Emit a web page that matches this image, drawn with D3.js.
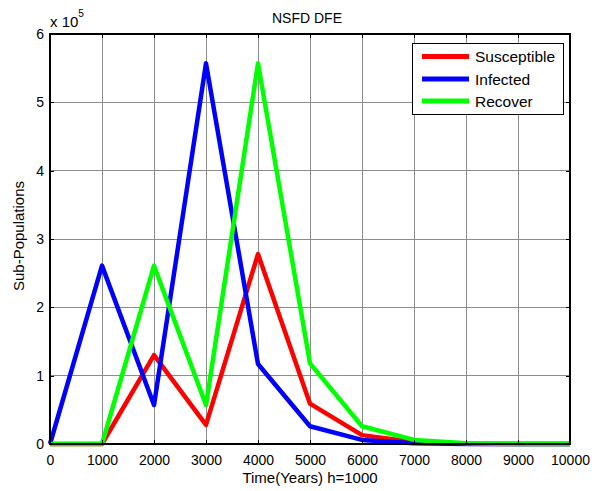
<!DOCTYPE html>
<html>
<head>
<meta charset="utf-8">
<script src="https://cdn.jsdelivr.net/npm/d3@7/dist/d3.min.js"></script>
<style>
  html, body { margin: 0; padding: 0; background: #fff; }
  svg { display: block; font-family: Arial, "Liberation Sans", sans-serif; }
</style>
</head>
<body>
<svg id="chart" width="592" height="491"></svg>
<script>
// Time steps (years) and the three sub-populations, in units of 1e5
const years = [0, 1000, 2000, 3000, 4000, 5000, 6000, 7000, 8000, 9000, 10000];
const susceptible = [0, 0, 1.30, 0.28, 2.78, 0.59, 0.13, 0.03, 0.005, 0, 0];
const infected    = [0, 2.61, 0.57, 5.57, 1.17, 0.26, 0.06, 0.01, 0, 0, 0];
const recover     = [0, 0, 2.61, 0.57, 5.57, 1.18, 0.26, 0.06, 0.01, 0, 0];

const seriesNames = ["Susceptible", "Infected", "Recover"];
const seriesColors = ["#ff0000", "#0000ff", "#00ff00"];
const xTicks = [0, 1000, 2000, 3000, 4000, 5000, 6000, 7000, 8000, 9000, 10000];
const yTicks = [0, 1, 2, 3, 4, 5, 6];

const svg = d3.select("#chart");
const margin = { left: 50, right: 22, top: 34, bottom: 47 };
const W = 592, H = 491;
const x = d3.scaleLinear().domain([0, 10000]).range([margin.left, W - margin.right]);
const y = d3.scaleLinear().domain([0, 6]).range([H - margin.bottom, margin.top]);

const x0 = x.range()[0], x1 = x.range()[1];
const y0 = y.range()[0], y1 = y.range()[1];

// grid
const grid = svg.append("g");
grid.selectAll(".gx").data(xTicks.slice(1, -1)).join("line")
  .attr("x1", d => x(d)).attr("x2", d => x(d))
  .attr("y1", y0).attr("y2", y1)
  .attr("stroke", "#8c8c8c").attr("stroke-width", 1).attr("shape-rendering", "crispEdges");
grid.selectAll(".gy").data(yTicks.slice(1, -1)).join("line")
  .attr("x1", x0).attr("x2", x1)
  .attr("y1", d => y(d)).attr("y2", d => y(d))
  .attr("stroke", "#8c8c8c").attr("stroke-width", 1).attr("shape-rendering", "crispEdges");

// series lines
const all = [susceptible, infected, recover];
const line = d3.line().x((d, i) => x(years[i])).y(d => y(d));
svg.append("g").selectAll("path").data(all).join("path")
  .attr("d", d => line(d))
  .attr("fill", "none")
  .attr("stroke", (d, i) => seriesColors[i])
  .attr("stroke-width", 4.5)
  .attr("stroke-linejoin", "round")
  .attr("stroke-linecap", "butt");

// axes (ticks point inward, as on a boxed plot)
const tickFont = "14px";
const xAxisB = d3.axisBottom(x).tickValues(xTicks).tickFormat(d3.format("d")).tickSizeInner(-4).tickSizeOuter(0).tickPadding(11);
const gxB = svg.append("g").attr("transform", `translate(0,${y0})`).call(xAxisB);
const xAxisT = d3.axisTop(x).tickValues(xTicks).tickFormat("").tickSizeInner(-4).tickSizeOuter(0);
const gxT = svg.append("g").attr("transform", `translate(0,${y1})`).call(xAxisT);
const yAxisL = d3.axisLeft(y).tickValues(yTicks).tickFormat(d3.format("d")).tickSizeInner(-4).tickSizeOuter(0).tickPadding(6);
const gyL = svg.append("g").attr("transform", `translate(${x0},0)`).call(yAxisL);
const yAxisR = d3.axisRight(y).tickValues(yTicks).tickFormat("").tickSizeInner(-4).tickSizeOuter(0);
const gyR = svg.append("g").attr("transform", `translate(${x1},0)`).call(yAxisR);

[gxB, gxT, gyL, gyR].forEach(g => {
  g.select(".domain").remove();
  g.selectAll(".tick line").attr("stroke", "#000").attr("shape-rendering", "crispEdges");
  g.selectAll("text").attr("fill", "#000").style("font-size", tickFont).style("font-family", "Arial, 'Liberation Sans', sans-serif");
});

// plot box
svg.append("rect")
  .attr("x", x0).attr("y", y1).attr("width", x1 - x0).attr("height", y0 - y1)
  .attr("fill", "none").attr("stroke", "#000").attr("stroke-width", 1.5).attr("shape-rendering", "crispEdges");

// title and axis labels
svg.append("text").attr("x", 307).attr("y", 23).attr("text-anchor", "middle")
  .style("font-size", "14px").text("NSFD DFE");
svg.append("text").attr("x", (x0 + x1) / 2).attr("y", 483).attr("text-anchor", "middle")
  .style("font-size", "15px").text("Time(Years) h=1000");
svg.append("text").attr("transform", `translate(24,236) rotate(-90)`).attr("text-anchor", "middle")
  .style("font-size", "15px").text("Sub-Populations");

// exponent label
const expo = svg.append("text").attr("x", x0).attr("y", 27).style("font-size", "15px");
expo.append("tspan").text("x 10");
expo.append("tspan").attr("dy", -10).style("font-size", "10px").text("5");

// legend
const lg = svg.append("g");
const lx = 412, ly = 43, lw = 151, lh = 71;
lg.append("rect").attr("x", lx + 1).attr("y", ly + 1).attr("width", lw).attr("height", lh)
  .attr("fill", "#555").attr("shape-rendering", "crispEdges");
lg.append("rect").attr("x", lx).attr("y", ly).attr("width", lw).attr("height", lh)
  .attr("fill", "#fff").attr("stroke", "#000").attr("stroke-width", 1).attr("shape-rendering", "crispEdges");
const rowY = [56.5, 79, 101];
seriesNames.forEach((name, i) => {
  lg.append("line").attr("x1", lx + 10).attr("x2", lx + 57).attr("y1", rowY[i]).attr("y2", rowY[i])
    .attr("stroke", seriesColors[i]).attr("stroke-width", 5);
  lg.append("text").attr("x", lx + 63).attr("y", rowY[i]).attr("dy", "0.36em")
    .style("font-size", "15.5px").text(name);
});
</script>
</body>
</html>
